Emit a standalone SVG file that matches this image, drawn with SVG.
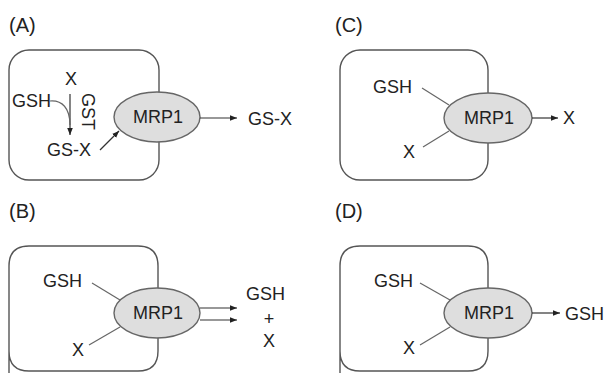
<svg xmlns="http://www.w3.org/2000/svg" width="611" height="373" viewBox="0 0 611 373">
<defs>
<marker id="ah" viewBox="0 0 10 10" refX="10" refY="5" markerWidth="7" markerHeight="7" markerUnits="userSpaceOnUse" orient="auto">
<path d="M0,1 L10,5 L0,9 Z" fill="#222"/>
</marker>
</defs>
<style>
text{font-family:"Liberation Sans",Arial,sans-serif;fill:#222;font-size:18px}
.lab{font-size:20px}
.cell{fill:none;stroke:#555;stroke-width:1.4}
.mrp{fill:#dedede;stroke:#666;stroke-width:1.4}
.ln{stroke:#666;stroke-width:1.2;fill:none}
.ar{stroke:#333;stroke-width:1.2;fill:none;marker-end:url(#ah)}
.mid{text-anchor:middle}
</style>
<rect width="611" height="373" fill="#fff"/>

<g id="panelA">
<text class="lab" x="9" y="32">(A)</text>
<rect id="cellA" class="cell" x="9" y="50" width="150" height="130" rx="20"/>
<text id="xA" x="65" y="85">X</text>
<text id="gshA" x="12" y="107">GSH</text>
<text id="gst" transform="translate(82,93) rotate(90)">GST</text>
<text id="gsxA" x="47" y="156">GS-X</text>
<g id="mrpA"><ellipse class="mrp" cx="157" cy="117" rx="43" ry="25"/><text class="mid" x="158" y="123">MRP1</text></g>
<text id="gsxOutA" x="248" y="125">GS-X</text>
</g>

<g id="panelB">
<text class="lab" x="9" y="218">(B)</text>
<path id="cellB" class="cell" d="M9,374 L9,266 Q9,246 29,246 L138,246 Q158,246 158,266 L158,351 Q158,371 138,371 L29,371 Q9,371 9,351"/>
<text id="gshB" x="43" y="287">GSH</text>
<text id="xB" x="72" y="356">X</text>
<g id="mrpB"><ellipse class="mrp" cx="157" cy="313" rx="43" ry="25"/><text class="mid" x="158" y="319">MRP1</text></g>
<text id="gshOutB" x="246" y="300">GSH</text>
<text id="plusB" class="mid" x="269" y="325">+</text>
<text id="xOutB" class="mid" x="269" y="347">X</text>
</g>

<g id="panelC">
<text class="lab" x="335" y="32">(C)</text>
<rect id="cellC" class="cell" x="340" y="50" width="148" height="130" rx="20"/>
<text id="gshC" x="373" y="93">GSH</text>
<text id="xC" x="403" y="158">X</text>
<g id="mrpC"><ellipse class="mrp" cx="488" cy="118" rx="44" ry="25"/><text class="mid" x="489" y="124">MRP1</text></g>
<text id="xOutC" x="563" y="124">X</text>
</g>

<g id="panelD">
<text class="lab" x="335" y="218">(D)</text>
<path id="cellD" class="cell" d="M340,374 L340,266 Q340,246 360,246 L468,246 Q488,246 488,266 L488,351 Q488,371 468,371 L360,371 Q340,371 340,351"/>
<text id="gshD" x="374" y="287">GSH</text>
<text id="xD" x="403" y="354">X</text>
<g id="mrpD"><ellipse class="mrp" cx="488" cy="313" rx="44" ry="25"/><text class="mid" x="489" y="319">MRP1</text></g>
<text id="gshOutD" x="565" y="320">GSH</text>
</g>

<g id="connectors">
<path class="ar" d="M70,94 L70,135"/>
<path class="ln" d="M50,101 C62,100 70,108 70,125"/>
<path class="ar" d="M100,150 L119,131"/>
<path class="ar" d="M200,118 L237,118"/>
<path class="ln" d="M92,283 L120,300"/>
<path class="ln" d="M89,345 L120,327"/>
<path class="ar" d="M200,308 L237,308"/>
<path class="ar" d="M200,320 L237,320"/>
<path class="ln" d="M422,88 L449,105"/>
<path class="ln" d="M423,147 L449,131"/>
<path class="ar" d="M532,118 L558,118"/>
<path class="ln" d="M420,283 L450,300"/>
<path class="ln" d="M420,345 L450,327"/>
<path class="ar" d="M532,313 L560,313"/>
</g>
</svg>
